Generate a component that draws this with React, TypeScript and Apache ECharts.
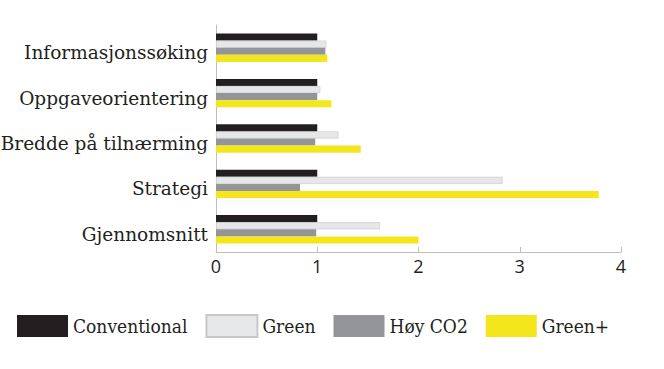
import React, { useEffect, useRef } from "react";
import * as echarts from "echarts";

const categories = [
  "Informasjonssøking",
  "Oppgaveorientering",
  "Bredde på tilnærming",
  "Strategi",
  "Gjennomsnitt",
];
const seriesNames = ["Conventional", "Green", "Høy CO2", "Green+"];
const conventional = [1.0, 1.0, 1.0, 1.0, 1.0];
const green = [1.09, 1.03, 1.21, 2.83, 1.62];
const hoyCO2 = [1.08, 1.0, 0.98, 0.83, 0.99];
const greenPlus = [1.1, 1.14, 1.43, 3.78, 2.0];
const xTicks = [0, 1, 2, 3, 4];

const colors = ["#231f20", "#e6e7e8", "#939598", "#f3e61c"];

export default function App() {
  const ref = useRef<HTMLDivElement>(null);
  useEffect(() => {
    if (!ref.current) return;
    const chart = echarts.init(ref.current, undefined, { renderer: "svg" });
    const data = [conventional, green, hoyCO2, greenPlus];
    chart.setOption({
      animation: false,
      grid: {
        left: 216,
        right: 43,
        top: 25,
        bottom: 117,
        containLabel: false,
        outerBoundsMode: "none",
      },
      legend: {
        left: 17,
        top: 314,
        padding: 0,
        itemWidth: 51,
        itemHeight: 22,
        itemGap: 18,
        icon: "rect",
        data: seriesNames,
        textStyle: {
          fontFamily: "DejaVu Serif Condensed, DejaVu Serif",
          fontSize: 19,
          color: "#231f20",
        },
      },
      xAxis: {
        type: "value",
        min: xTicks[0],
        max: xTicks[xTicks.length - 1],
        interval: 1,
        axisLine: { show: true, lineStyle: { color: "#bcbec0", width: 1 } },
        axisTick: { show: true, inside: true, length: 5, lineStyle: { color: "#bcbec0" } },
        splitLine: { show: false },
        axisLabel: {
          fontFamily: "Open Sans",
          fontSize: 18,
          color: "#231f20",
          margin: 5,
        },
      },
      yAxis: {
        type: "category",
        data: categories,
        inverse: true,
        axisLine: { show: true, lineStyle: { color: "#bcbec0", width: 1 } },
        axisTick: { show: false },
        axisLabel: {
          fontFamily: "DejaVu Serif",
          fontSize: 18.5,
          color: "#231f20",
          margin: 8,
          verticalAlign: "top",
          lineHeight: 10,
        },
      },
      series: seriesNames.map((name, i) => ({
        name,
        type: "bar",
        data: data[i],
        barGap: "0%",
        barCategoryGap: "37.5%",
        itemStyle: {
          color: colors[i],
          borderColor: i === 1 ? "#c7c8ca" : colors[i],
          borderWidth: i === 1 ? 0.6 : 0,
        },
      })),
    });
    return () => chart.dispose();
  }, []);
  return <div ref={ref} style={{ width: 664, height: 369, position: "absolute", left: 0, top: 0 }} />;
}
